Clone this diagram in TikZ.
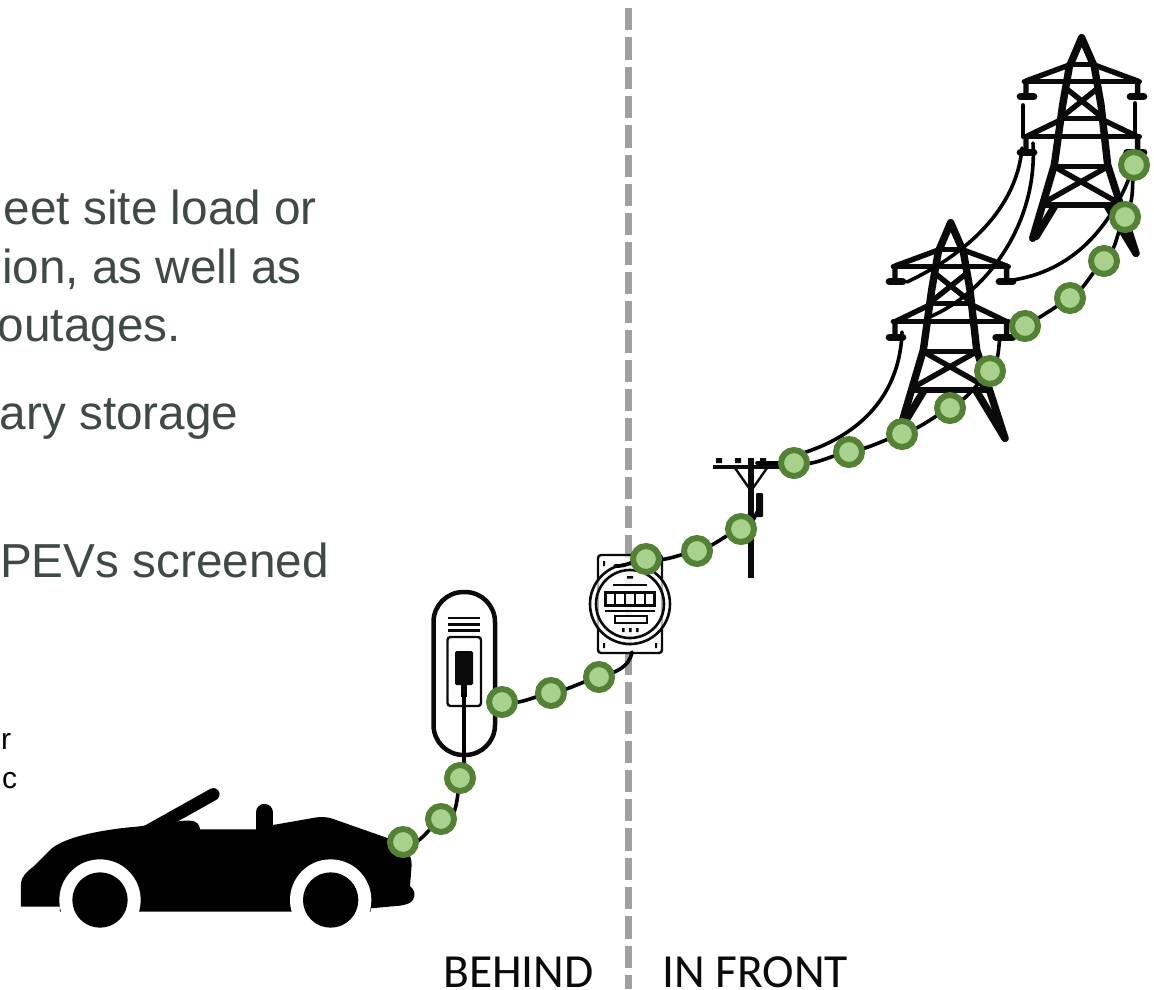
\documentclass[tikz,border=0pt]{standalone}
\usepackage{fontspec}
\setmainfont{Liberation Sans}
\newfontfamily\carlito{Carlito}
\definecolor{dotfill}{HTML}{A9D18E}
\definecolor{dotring}{HTML}{548235}
\definecolor{bodytext}{HTML}{3F4A47}
\definecolor{divider}{HTML}{A0A0A0}
\definecolor{ink}{HTML}{0A0A0A}
\pgfdeclarelayer{wirelayer}
\pgfdeclarelayer{dotlayer}
\pgfsetlayers{main,wirelayer,dotlayer}
\tikzset{
  dot/.style={circle,draw=dotring,fill=dotfill,line width=6pt,minimum size=26pt,inner sep=0pt,outer sep=0pt},
  wire/.style={draw=black,line width=3.6pt,line cap=round},
  bigtext/.style={anchor=base east,inner sep=0pt,text=bodytext,font=\fontsize{47.7}{59}\selectfont},
  smalltext/.style={anchor=base west,inner sep=0pt,text=black,font=\fontsize{30}{34}\selectfont},
  sidetext/.style={anchor=base west,inner sep=0pt,text=ink,font=\carlito\fontsize{47.5}{52}\selectfont},
  towerline/.style={draw=ink,line width=5.4pt,line cap=round,line join=round},
  towerbold/.style={draw=ink,line width=7.4pt,line cap=round,line join=round},
  meterline/.style={draw=ink,line width=2.2pt},
  dashline/.style={draw=divider,line width=7pt,dash pattern=on 22.3pt off 7pt},
}
\newcommand{\towerglyph}[2]{%
  \begin{scope}[shift={(#1,#2)},x=0.33333pt,y=-0.33333pt]
    \draw[towerbold] (425,640) -- (490,420) -- (515,240) -- (535,125) -- (572,38) -- (610,125) -- (630,240) -- (650,420) -- (735,685);
    \draw[towerline] (535,118) -- (610,118);
    \draw[towerline] (405,212) -- (405,168) -- (535,120) (610,120) -- (740,168) -- (740,212);
    \draw[towerline] (400,170) -- (745,170);
    \draw[towerbold] (388,215) -- (428,215) (718,215) -- (758,215);
    \draw[towerline] (525,190) -- (625,270) (620,190) -- (520,270);
    \draw[towerline] (515,280) -- (630,280);
    \draw[towerline] (405,380) -- (405,335) -- (515,282) (630,282) -- (740,335) -- (740,380);
    \draw[towerline] (400,335) -- (745,335);
    \draw[towerbold] (388,382) -- (428,382) (708,382) -- (758,382);
    \draw[towerline] (495,425) -- (650,425);
    \draw[towerline] (490,425) -- (685,535) (650,425) -- (455,535);
    \draw[towerline] (455,540) -- (690,540);
    \draw[towerbold] (490,545) -- (435,635) (650,545) -- (735,685);
  \end{scope}}
\begin{document}
\begin{tikzpicture}[x=1pt,y=-1pt]
\useasboundingbox (0,0) rectangle (1154,989);
\fill[white] (0,0) rectangle (1154,989);

% divider
\coordinate (divtop) at (628,8);
\coordinate (divbot) at (628,989);
\draw[dashline] (divtop) -- (divbot);

% text
\node[bigtext] (t1) at (317,224) {eet site load or};
\node[bigtext] (t2) at (302,283) {ion, as well as};
\node[bigtext] (t3) at (181,341) {outages.};
\node[bigtext] (t4) at (238.5,429) {ary storage};
\node[bigtext] (t5) at (329,577) {PEVs screened};
\node[smalltext] (t6) at (1,749) {r};
\node[smalltext] (t7) at (2,788) {c};
\node[sidetext] (behind) at (443,987) {BEHIND};
\node[sidetext] (front) at (662,987) {IN FRONT};

% towers
\towerglyph{760}{210}
\towerglyph{891}{25}

% car
\begin{scope}[shift={(0,770)},x=0.33333pt,y=-0.33333pt]
  \draw[black,line width=12.5pt,line cap=round] (640,73) -- (440,185);
  \draw[black,line width=17pt,line cap=round] (793,127) -- (793,200);
  \fill[black] (63,410) -- (63,340) .. controls (63,322) and (80,305) .. (100,290)
    -- (150,240) .. controls (185,205) and (290,180) .. (410,170)
    -- (550,152) -- (570,152) .. controls (590,152) and (600,165) .. (600,178)
    -- (767,178) -- (819,165) -- (950,142) .. controls (975,140) and (985,142) .. (1000,147)
    -- (1165,205) .. controls (1215,225) and (1235,250) .. (1235,285)
    -- (1230,348) .. controls (1240,358) and (1245,365) .. (1243,378)
    .. controls (1240,395) and (1230,402) .. (1200,407)
    -- (1112,415) -- (1112,425) -- (180,425) -- (180,410) -- cycle;
  \fill[white] (300,390) circle[radius=122];
  \fill[white] (992,390) circle[radius=122];
  \fill[black] (300,390) circle[radius=83];
  \fill[black] (992,390) circle[radius=83];
\end{scope}

% charger
\draw[draw=ink,line width=4.5pt,fill=white,rounded corners=30pt] (433.5,592) rectangle (495,755);
\draw[ink,line width=2.4pt] (448,618) -- (480,618) (448,624.5) -- (480,624.5) (448,630.5) -- (480,630.5);
\draw[ink,line width=2.4pt,rounded corners=3pt] (447.5,637) rectangle (481,706);
\fill[ink,rounded corners=1.5pt] (455,651) rectangle (473,685);
\fill[ink] (461,685) rectangle (467,697);
\coordinate (plug) at (464,695);

% meter
\draw[draw=ink,line width=2.4pt,fill=white,fill opacity=0.65,rounded corners=3pt] (598,555) rectangle (662,653);
\draw[draw=ink,line width=2.6pt,fill=white,fill opacity=0.7] (630,604) circle[radius=40];
\draw[draw=ink,line width=2.6pt] (630,604) circle[radius=34];
\draw[meterline] (613,585) -- (647,585);
\draw[draw=ink,line width=3pt] (605.5,592) rectangle (654.5,605);
\draw[draw=ink,line width=2.6pt] (615,592) -- (615,605) (625,592) -- (625,605) (635,592) -- (635,605) (645,592) -- (645,605);
\draw[meterline] (605,611) -- (655,611);
\draw[meterline] (615,616) rectangle (647,623);
\fill[ink] (622,628) rectangle (624.5,632) (629,628) rectangle (631.5,632) (636,628) rectangle (638.5,632) (627,576) rectangle (633,578.5);
\fill[ink] (603,561) rectangle (605,566) (655,561) rectangle (657,566) (603,643) rectangle (605,648) (655,643) rectangle (657,648);
\coordinate (meterbot) at (632,652);
\coordinate (metertop) at (615,566);

% pole
\draw[ink,line width=6pt] (751,458) -- (751,578);
\draw[ink,line width=4pt] (713,467) -- (790,467);
\draw[ink,line width=2.4pt] (735,468) -- (749,488) (767,468) -- (753,488);
\fill[ink] (716,458) rectangle (722,463) (735,458) rectangle (741,463) (760,458) rectangle (766,463);
\fill[ink,rounded corners=1pt] (756,493) rectangle (763,517);
\coordinate (poletap) at (757,512);
\coordinate (poletop) at (757,463);

% wire anchors
\coordinate (arm1) at (1000,338);
\coordinate (s1) at (803,453);
\coordinate (s2) at (902,332);
\coordinate (l1) at (1022,148);
\coordinate (s3) at (907,282);
\coordinate (l2) at (1033,143);
\coordinate (s4) at (927,318);
\coordinate (s5) at (1005,281);
\coordinate (l3a) at (1023,105);
\coordinate (l3b) at (1023,137);
\coordinate (r3a) at (1135,103);
\coordinate (r3b) at (1135,135);

% dots
\begin{pgfonlayer}{dotlayer}
\node[dot] (d1) at (403,842) {};
\node[dot] (d2) at (441,819) {};
\node[dot] (d3) at (460,778) {};
\node[dot] (d4) at (502,702) {};
\node[dot] (d5) at (551,693) {};
\node[dot] (d6) at (599,677) {};
\node[dot] (d7) at (646,559) {};
\node[dot] (d8) at (697,551) {};
\node[dot] (d9) at (741,529) {};
\node[dot] (d10) at (794,463) {};
\node[dot] (d11) at (849,452) {};
\node[dot] (d12) at (902,434) {};
\node[dot] (d13) at (950,408) {};
\node[dot] (d14) at (990,371) {};
\node[dot] (d15) at (1025,326) {};
\node[dot] (d16) at (1070,298) {};
\node[dot] (d17) at (1104,261) {};
\node[dot] (d18) at (1125,217) {};
\node[dot] (d19) at (1134,165) {};
\end{pgfonlayer}

% wires, behind dots
\begin{pgfonlayer}{wirelayer}
\draw[wire] (d1.center) to[out=-25,in=215] (d2.center);
\draw[wire] (d2.center) to[out=-20,in=260] (d3.center);
\draw[wire,line width=4.6pt,line cap=butt] (plug) -- (464,767);
\draw[wire] (d4.center) to[out=-10,in=190] (d5.center);
\draw[wire] (d5.center) to[out=10,in=195] (d6.center);
\draw[wire] (d6.center) to[out=15,in=260] (meterbot);
\draw[wire] (metertop) to[out=-5,in=180] (d7.center);
\draw[wire] (d7.center) to[out=-10,in=190] (d8.center);
\draw[wire] (d8.center) to[out=15,in=200] (d9.center);
\draw[wire] (d9.center) to[out=20,in=250] (poletap);
\draw[wire] (poletop) -- (d10.center);
\draw[wire] (d10.center) to[out=-10,in=190] (d11.center);
\draw[wire] (d11.center) to[out=10,in=198] (d12.center);
\draw[wire] (d12.center) to[out=18,in=208] (d13.center);
\draw[wire] (d13.center) to[out=28,in=225] (d14.center);
\draw[wire] (d14.center) to[out=45,in=260] (arm1);
\draw[wire] (d15.center) to[out=30,in=212] (d16.center);
\draw[wire] (d16.center) to[out=32,in=222] (d17.center);
\draw[wire] (d17.center) to[out=42,in=240] (d18.center);
\draw[wire] (d18.center) to[out=60,in=262] (d19.center);
\draw[wire] (s1) .. controls (860,435) and (900,395) .. (s2);
\draw[wire] (l1) .. controls (1018,195) and (985,245) .. (s3);
\draw[wire] (l2) .. controls (1038,225) and (985,295) .. (s4);
\draw[wire] (s5) .. controls (1065,275) and (1110,235) .. (d19.center);
\draw[wire] (l3a) -- (l3b);
\draw[wire] (r3a) -- (r3b);
\end{pgfonlayer}
\end{tikzpicture}
\end{document}
